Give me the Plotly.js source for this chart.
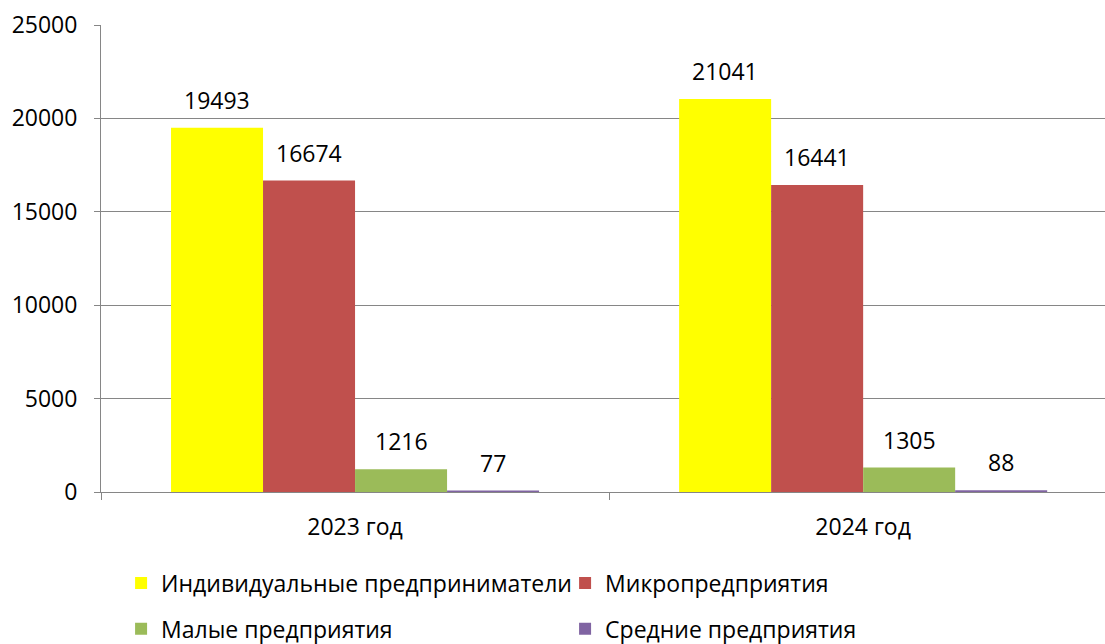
<!DOCTYPE html>
<html>
<head>
<meta charset="utf-8">
<script src="https://cdn.plot.ly/plotly-3.0.1.min.js"></script>
<style>html,body{margin:0;padding:0;background:#fff;}</style>
</head>
<body>
<div id="chart" style="width:1105px;height:644px;"></div>
<script>
var categories = ["2023 год", "2024 год"];
var seriesNames = ["Индивидуальные предприниматели", "Микропредприятия", "Малые предприятия", "Средние предприятия"];
var individual = [19493, 21041];
var micro = [16674, 16441];
var small = [1216, 1305];
var medium = [77, 88];

var colors = ["#FFFF00", "#C0504D", "#9BBB59", "#8064A2"];
var allSeries = [individual, micro, small, medium];
var legendIds = ["legend", "legend", "legend2", "legend2"];
var FONT = "'Open Sans', 'Noto Sans', sans-serif";
var FS = 23;

var xIdx = categories.map(function(c, i){ return i; });
var traces = allSeries.map(function(vals, s){
  return {
    type: "bar",
    x: xIdx,
    y: vals,
    name: seriesNames[s],
    marker: {color: colors[s], line: {width: 0}},
    legend: legendIds[s],
    hoverinfo: "y"
  };
});

var barPx = 92;
var annotations = [];
allSeries.forEach(function(vals, s){
  vals.forEach(function(v, i){
    annotations.push({
      x: xIdx[i], y: v, xref: "x", yref: "y",
      text: String(v), showarrow: false,
      xanchor: "center", yanchor: "bottom",
      xshift: (s - 1.5) * barPx, yshift: 10,
      font: {family: FONT, size: FS, color: "#000"}
    });
  });
});

var layout = {
  width: 1105, height: 644,
  margin: {l: 101, r: 0, t: 25, b: 152, autoexpand: false},
  paper_bgcolor: "#fff", plot_bgcolor: "#fff",
  barmode: "group", bargap: 0.2756, bargroupgap: 0,
  font: {family: FONT, size: FS, color: "#000"},
  xaxis: {
    range: [-0.5, 1.476],
    tickmode: "array", tickvals: xIdx, ticktext: categories,
    ticks: "", showgrid: false, zeroline: false,
    showline: true, linecolor: "#868686", linewidth: 1,
    ticklabelstandoff: 14,
    tickfont: {family: FONT, size: FS, color: "#000"},
    minor: {tickmode: "array", tickvals: [-0.5, 0.5, 1.5], ticks: "outside", ticklen: 7, tickcolor: "#868686", tickwidth: 1, showgrid: false},
    fixedrange: true
  },
  yaxis: {
    range: [0, 25000], tickmode: "linear", tick0: 0, dtick: 5000, tickformat: "d",
    ticks: "outside", ticklen: 6, tickcolor: "#868686", tickwidth: 1,
    showgrid: true, gridcolor: "#868686", gridwidth: 1,
    zeroline: false, showline: true, linecolor: "#868686", linewidth: 1,
    ticklabelstandoff: 12,
    tickfont: {family: FONT, size: FS, color: "#000"},
    fixedrange: true
  },
  legend: {
    orientation: "h", x: 0.02, xanchor: "left", y: -0.195, yanchor: "middle",
    entrywidthmode: "pixels", entrywidth: 399,
    font: {family: FONT, size: FS, color: "#000"}, bgcolor: "rgba(0,0,0,0)"
  },
  legend2: {
    orientation: "h", x: 0.02, xanchor: "left", y: -0.293, yanchor: "middle",
    entrywidthmode: "pixels", entrywidth: 399,
    font: {family: FONT, size: FS, color: "#000"}, bgcolor: "rgba(0,0,0,0)"
  },
  annotations: annotations,
  showlegend: true
};

Plotly.newPlot("chart", traces, layout, {displayModeBar: false, staticPlot: true});
</script>
</body>
</html>
